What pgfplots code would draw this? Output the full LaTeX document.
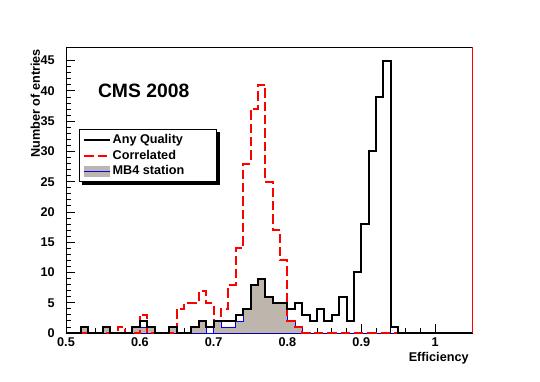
\documentclass[border=0pt]{standalone}
\usepackage{fontspec}
\setmainfont{Liberation Sans}
\usepackage{pgfplots}
\usepackage{pgfplotstable}
\pgfplotsset{compat=1.18}
\definecolor{mbfill}{RGB}{190,182,172}

% bin left edge, counts per 0.01 bin
\pgfplotstableread{
x    black red mb4
0.50 0  0  0
0.51 0  0  0
0.52 1  0  1
0.53 0  0  0
0.54 0  0  0
0.55 1  0  1
0.56 0  0  0
0.57 0  1  0
0.58 0  0  0
0.59 1  0  1
0.60 2  3  1
0.61 1  0  1
0.62 0  0  0
0.63 0  0  0
0.64 1  0  1
0.65 0  4  0
0.66 0  5  0
0.67 1  5  1
0.68 2  7  2
0.69 1  5  0
0.70 2  2  2
0.71 2  4  1
0.72 2  8  1
0.73 3  14 2
0.74 4  28 4
0.75 8  37 8
0.76 9  41 9
0.77 6  25 6
0.78 5  17 5
0.79 5  12 5
0.80 4  2  2
0.81 5  1  1
0.82 3  0  0
0.83 2  0  0
0.84 4  0  0
0.85 2  0  0
0.86 3  0  0
0.87 6  0  0
0.88 2  0  0
0.89 10 0  0
0.90 18 0  0
0.91 30 0  0
0.92 39 0  0
0.93 45 0  0
0.94 1  0  0
0.95 0  0  0
0.96 0  0  0
0.97 0  0  0
0.98 0  0  0
0.99 0  0  0
1.00 0  0  0
1.01 0  0  0
1.02 0  0  0
1.03 0  0  0
1.04 0  0  0
1.05 0  0  0
}\effdata

\begin{document}
\begin{tikzpicture}
\useasboundingbox (-49.5pt,-36.75pt) rectangle (355.5pt,249.75pt);
\begin{axis}[
  scale only axis,
  width=304.5pt, height=214.5pt,
  xmin=0.5, xmax=1.05, ymin=0, ymax=47.25,
  xtick={0.5,0.6,0.7,0.8,0.9,1},
  ytick={0,5,10,15,20,25,30,35,40,45},
  minor x tick num=4, minor y tick num=4,
  tick align=inside, xtick pos=bottom, ytick pos=left,
  major tick length=7pt, minor tick length=3.5pt,
  tick style={black, line width=0.6pt},
  axis line style={line width=0.6pt},
  /pgf/number format/assume math mode=true,
  ticklabel style={font=\bfseries\fontsize{9.5}{10}\selectfont},
  yticklabel style={xshift=-5pt},
  clip=false,
  legend cell align=left,
  legend style={name=leg, at={(rel axis cs:0.032,0.713)}, anchor=north west,
    draw=black, line width=0.5pt, fill=white,
    font=\bfseries\fontsize{9.5}{11}\selectfont,
    inner xsep=3pt, inner ysep=2pt, row sep=0.5pt, nodes={inner sep=1.5pt}},
  legend image code/.code={\draw[#1] (0pt,0pt) -- (19pt,0pt);},
]
\addlegendimage{black, line width=1.5pt}
\addlegendimage{red, line width=1.5pt, dash pattern=on 7pt off 3pt}
\addlegendimage{legend image code/.code={
  \fill[mbfill] (0pt,-3.5pt) rectangle (19pt,3.5pt);
  \draw[blue, line width=0.5pt] (0pt,0pt) -- (19pt,0pt);}}

\addplot[forget plot, const plot mark left, fill=mbfill, draw=blue, line width=0.5pt]
  table[x=x, y=mb4] {\effdata} \closedcycle;
\addplot[forget plot, const plot mark left, red, line width=1.5pt, dash pattern=on 7pt off 3pt]
  table[x=x, y=red] {\effdata};
\addplot[forget plot, const plot mark left, black, line width=1.5pt]
  table[x=x, y=black] {\effdata};

\draw[red, line width=0.6pt] (rel axis cs:1,0) -- (rel axis cs:1,1);
\node[anchor=west, font=\bfseries\fontsize{14.5}{16}\selectfont] at (axis cs:0.537,40) {CMS 2008};

\legend{\makebox[73pt][l]{Any Quality}, Correlated, MB4 station}
\end{axis}
% legend shadow on right and bottom sides
\fill[black] ([yshift=-2.5pt]leg.north east) rectangle ([xshift=2.5pt, yshift=-2.5pt]leg.south east);
\fill[black] ([xshift=2.5pt]leg.south west) rectangle ([xshift=2.5pt, yshift=-2.5pt]leg.south east);
\node[rotate=90, anchor=south east, font=\bfseries\fontsize{9.5}{11}\selectfont]
  at ([xshift=-16pt, yshift=2pt]current axis.north west) {Number of entries};
\node[anchor=north east, font=\bfseries\fontsize{9.5}{11}\selectfont]
  at ([xshift=1pt, yshift=-11pt]current axis.south east) {Efficiency};
\end{tikzpicture}
\end{document}
